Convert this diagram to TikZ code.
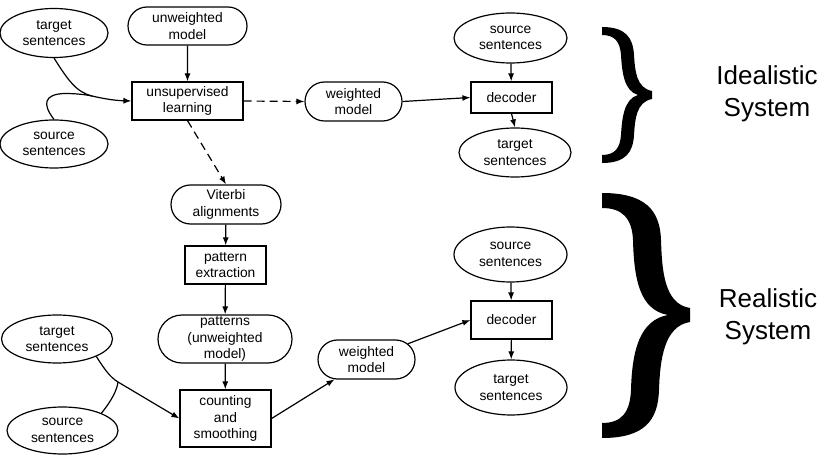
\documentclass[tikz,border=0pt]{standalone}
\usepackage{fontspec}
\setmainfont{Liberation Sans}
\usetikzlibrary{shapes.geometric,shapes.misc,arrows.meta}
\begin{document}
\begin{tikzpicture}[x=1pt,y=-1pt,
  base/.style={draw,line width=1.2pt,align=center,inner sep=0pt,
    font=\fontsize{13.8}{16.5}\selectfont},
  ell/.style={base,ellipse},
  box/.style={base,rectangle},
  pill/.style={base,rounded rectangle},
  sz/.style 2 args={minimum width=#1pt,minimum height=#2pt},
  arr/.style={line width=1.2pt,-{Latex[length=8pt,width=6pt]}},
  dsh/.style={arr,dash pattern=on 8pt off 5pt},
  line/.style={line width=1.2pt},
  label/.style={align=center,inner sep=0pt,font=\fontsize{26}{32}\selectfont}
]
\useasboundingbox (0,0) rectangle (824,462);

% ---- idealistic system ----
\node[ell,sz={108}{49}]  (ts1)  at (54,33)      {target\\sentences};
\node[pill,sz={119}{38}] (um)   at (187.5,26)   {unweighted\\model};
\node[box,sz={111}{38}]  (uns)  at (187.5,101)  {unsupervised\\learning};
\node[ell,sz={108}{48}]  (ss1)  at (54,144)     {source\\sentences};
\node[pill,sz={97}{39}]  (wm1)  at (353.5,101.5){weighted\\model};
\node[ell,sz={113}{50}]  (ss2)  at (510.5,38)   {source\\sentences};
\node[box,sz={81}{31}]   (dec1) at (511.5,97.5) {decoder};
\node[ell,sz={112}{49}]  (tt2)  at (515,152.5)  {target\\sentences};

\coordinate (m1) at (92,96);
\draw[line] (ts1.south) .. controls (68,80) and (76,92) .. (m1);
\draw[arr] (m1) .. controls (105,99) and (115,100.5) .. (uns.west);
\draw[line] (ss1.north) .. controls (42,104) and (44,94) .. (65,93.5)
  .. controls (75,93.5) and (85,94.5) .. (m1);
\draw[arr] (um) -- (uns);
\draw[dsh] (uns.east) -- (wm1.west);
\draw[arr] (wm1.east) -- (dec1.west);
\draw[arr] (ss2) -- (dec1);
\draw[arr] (dec1.south) -- (tt2.north);

% ---- realistic system ----
\node[pill,sz={110}{39}] (vit)  at (226,204.5)  {Viterbi\\alignments};
\node[box,sz={81}{38}]   (pe)   at (225.5,265)  {pattern\\extraction};
\node[pill,sz={134}{48}] (pat)  at (225,339)    {patterns\\(unweighted\\model)};
\node[box,sz={91}{57}]   (cns)  at (225.5,418.5){counting\\and\\smoothing};
\node[ell,sz={111}{48}]  (ts3)  at (57,339)     {target\\sentences};
\node[ell,sz={111}{47}]  (ss3)  at (62.5,430.5) {source\\sentences};
\node[pill,sz={97}{39}]  (wm2)  at (366.5,359.5){weighted\\model};
\node[ell,sz={113}{55}]  (ss4)  at (510.5,254.5){source\\sentences};
\node[box,sz={81}{38}]   (dec2) at (511.5,320)  {decoder};
\node[ell,sz={112}{55}]  (tt4)  at (511,387.5)  {target\\sentences};

\draw[dsh] (uns.south) -- (vit.north);
\draw[arr] (vit) -- (pe);
\draw[arr] (pe) -- (pat);
\draw[arr] (pat) -- (cns);
\coordinate (m2) at (118,382);
\draw[line] (ts3.-24) .. controls (105,370) and (110,377) .. (m2);
\draw[arr] (m2) -- (cns.west);
\draw[line] (ss3.24) .. controls (112,400) and (117,390) .. (m2);
\draw[arr] (cns.east) -- (wm2);
\draw[arr] (wm2) -- (dec2.west);
\draw[arr] (ss4) -- (dec2);
\draw[arr] (dec2) -- (tt4);

% ---- braces ----
\fill (602,27) .. controls (626,27) and (633,38) .. (634,55)
  .. controls (635,70) and (636,88) .. (652,91) -- (652,99)
  .. controls (636,102) and (635,120) .. (634,135)
  .. controls (633,152) and (626,163) .. (602,163) -- (602,155)
  .. controls (615,155) and (620,148) .. (621,135)
  .. controls (622,118) and (624,99) .. (638,95)
  .. controls (624,91) and (622,72) .. (621,55)
  .. controls (620,42) and (615,35) .. (602,35) -- cycle;
\fill (602,193) .. controls (645,193) and (660,210) .. (661,240)
  .. controls (662,270) and (664,304) .. (690,308) -- (690,322)
  .. controls (664,326) and (660,360) .. (659,390)
  .. controls (658,420) and (645,438) .. (602,438) -- (602,423)
  .. controls (622,423) and (630,412) .. (631,390)
  .. controls (632,350) and (640,320) .. (668,315)
  .. controls (640,310) and (634,280) .. (633,240)
  .. controls (632,218) and (622,208) .. (602,208) -- cycle;

\node[label] (ideal) at (767,94)  {Idealistic\\System};
\node[label] (real)  at (768,317) {Realistic\\System};
\end{tikzpicture}
\end{document}
